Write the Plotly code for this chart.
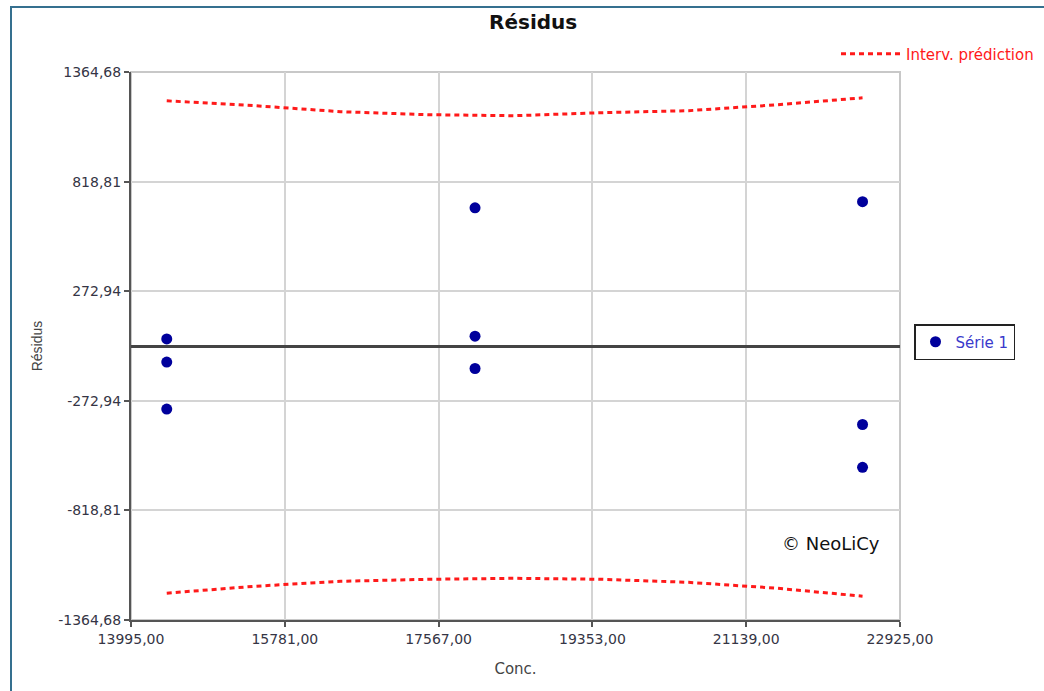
import plotly.graph_objects as go

# Residuals per calibration level
conc = [14410, 14410, 14410, 17990, 17990, 17990, 22490, 22490, 22490]
residus = [35, -80, -314, 688, 49, -112, 719, -391, -604]

# Prediction interval limits
band_x = [14410, 15420, 16430, 17440, 18450, 19460, 20470, 21480, 22490]
band_upper = [1221, 1197, 1167, 1152, 1147, 1162, 1172, 1201, 1236]
band_lower = [-1231, -1197, -1172, -1162, -1157, -1162, -1177, -1206, -1246]

# Axis ticks
x_ticks = [13995.00, 15781.00, 17567.00, 19353.00, 21139.00, 22925.00]
y_ticks = [1364.68, 818.81, 272.94, -272.94, -818.81, -1364.68]


def fr(v, d=2):
    return f"{v:.{d}f}".replace(".", ",")


FONT = "DejaVu Sans, Verdana, sans-serif"
FONT_NARROW = "Liberation Sans, Arial, sans-serif"
RED = "#ff1a1a"

fig = go.Figure()

fig.add_trace(go.Scatter(
    x=band_x, y=band_upper, mode="lines", name="Interv. prédiction",
    line=dict(color=RED, width=3, dash="5px,4px"),
    legend="legend2", legendgroup="pi",
))
fig.add_trace(go.Scatter(
    x=band_x, y=band_lower, mode="lines", name="Interv. prédiction",
    line=dict(color=RED, width=3, dash="5px,4px"),
    legend="legend2", legendgroup="pi", showlegend=False,
))
fig.add_trace(go.Scatter(
    x=conc, y=residus, mode="markers", name="Série 1",
    marker=dict(color="#00009c", size=11, symbol="circle"),
    legend="legend",
))

axis_common = dict(
    showgrid=True, gridcolor="#d4d4d4", gridwidth=1.5,
    showline=True, linecolor="#555555", linewidth=2,
    ticks="outside", ticklen=5, tickcolor="#555555", tickwidth=1.5,
    tickfont=dict(family=FONT, size=14, color="#353545"),
    automargin=False,
)

fig.update_layout(
    width=1044, height=691,
    margin=dict(l=131, r=144, t=72, b=71, autoexpand=False),
    paper_bgcolor="white", plot_bgcolor="white",
    font=dict(family=FONT),
    title=dict(
        text="<b>Résidus</b>", font=dict(family=FONT, size=20, color="#111111"),
        x=0.523, xref="paper", xanchor="center",
        y=1 - 22 / 691, yref="container", yanchor="middle",
    ),
    xaxis=dict(
        range=[x_ticks[0], x_ticks[-1]],
        tickvals=x_ticks, ticktext=[fr(v) for v in x_ticks],
        zeroline=False,
        title=dict(text="Conc.", font=dict(family=FONT, size=15, color="#444444"),
                   standoff=18),
        **axis_common,
    ),
    yaxis=dict(
        range=[y_ticks[-1], y_ticks[0]],
        tickvals=y_ticks, ticktext=[fr(v) for v in y_ticks],
        zeroline=True, zerolinecolor="#444444", zerolinewidth=2.5,
        title=dict(text="Résidus", font=dict(family=FONT_NARROW, size=14, color="#444444"),
                   standoff=12),
        **axis_common,
    ),
    legend=dict(
        x=(914 - 131) / 769, xanchor="left",
        y=(620 - 324) / 548, yanchor="top",
        bgcolor="white", bordercolor="#222222", borderwidth=1.5,
        font=dict(family=FONT, size=15, color="#3a3acc"),
        itemwidth=30,
    ),
    legend2=dict(
        x=(836 - 131) / 769, xanchor="left",
        y=(620 - 54) / 548, yanchor="middle",
        bgcolor="rgba(0,0,0,0)", borderwidth=0,
        font=dict(family=FONT, size=15, color=RED),
        itemwidth=60,
    ),
    showlegend=True,
    shapes=[
        # light frame around the plotting area
        dict(type="rect", xref="paper", yref="paper", x0=0, x1=1, y0=0, y1=1,
             line=dict(color="#c8c8c8", width=2), layer="below"),
        # outer panel border
        dict(type="rect", xref="paper", yref="paper",
             x0=(11 - 131) / 769, x1=1.3, y0=-0.3, y1=(620 - 7) / 548,
             line=dict(color="#35708f", width=2), layer="below"),
    ],
    annotations=[
        dict(text="© NeoLiCy", xref="paper", yref="paper",
             x=(831 - 131) / 769, y=(620 - 543) / 548,
             xanchor="center", yanchor="middle", showarrow=False,
             font=dict(family=FONT, size=18, color="#111111")),
    ],
)

fig.write_html("out.html")
